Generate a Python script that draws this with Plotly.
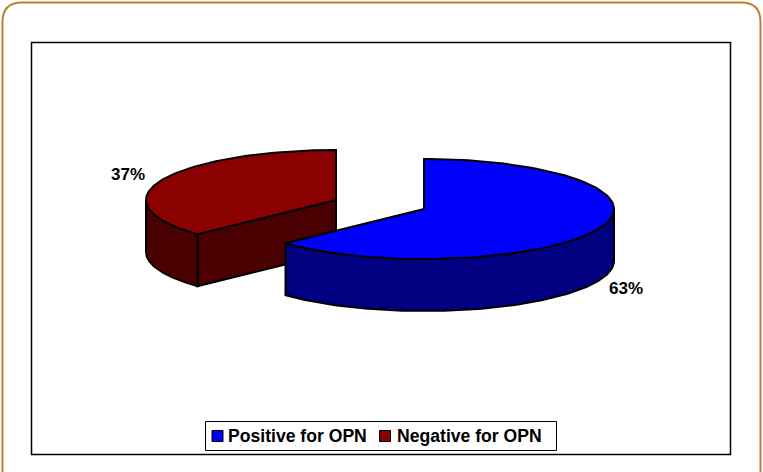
import numpy as np
import plotly.graph_objects as go

categories = ['Positive for OPN', 'Negative for OPN']
shares = [63, 37]
top_colors = ['#0000FF', '#8B0000']
wall_colors = ['#000080', '#4A0000']

# pie geometry, in pixels of the page
centers = [(424, 209), (336, 200)]
rx, ry, depth = 190, 50, 52
label_pos = [(626, 290), (128, 176)]
legend_swatches = [(217.5, 436), (385, 436)]
legend_text = [(228, 438), (397, 438)]


def rim(cx, cy, start, end, dy=0):
    # angles are clockwise from 12 o'clock, in degrees
    t = np.radians(np.linspace(start, end, 120))
    return cx + rx * np.sin(t), cy - ry * np.cos(t) + dy


def poly(x, y, color):
    return go.Scatter(x=list(x), y=list(y), mode='lines', fill='toself', fillcolor=color,
                      line=dict(color='black', width=2), hoverinfo='skip', showlegend=False)


bounds = np.cumsum([0] + shares) / sum(shares) * 360
fig = go.Figure()

# far slice first so the near one sits on top of it
for i in [1, 0]:
    cx, cy = centers[i]
    start, end = bounds[i], bounds[i + 1]
    tx, ty = rim(cx, cy, start, end)

    if i == 1:
        # cut face that looks towards the viewer
        fig.add_trace(poly([cx, tx[0], tx[0], cx, cx], [cy, ty[0], ty[0] + depth, cy + depth, cy], wall_colors[i]))

    # outer wall, only the front half of the rim shows
    a, b = max(start, 90), min(end, 270)
    wx, wy = rim(cx, cy, a, b)
    bx, by = rim(cx, cy, b, a, depth)
    fig.add_trace(poly(np.r_[wx, bx, wx[0]], np.r_[wy, by, wy[0]], wall_colors[i]))

    fig.add_trace(poly(np.r_[cx, tx, cx], np.r_[cy, ty, cy], top_colors[i]))

fig.add_trace(go.Scatter(
    x=[p[0] for p in label_pos], y=[p[1] for p in label_pos],
    text=[f'{v}%' for v in shares], mode='text', hoverinfo='skip', showlegend=False,
    textfont=dict(family='Liberation Sans', size=17, color='black', weight=700)))

fig.add_trace(go.Scatter(
    x=[p[0] for p in legend_swatches], y=[p[1] for p in legend_swatches],
    mode='markers', hoverinfo='skip', showlegend=False,
    marker=dict(symbol='square', size=11, color=top_colors, line=dict(color='black', width=1))))

fig.add_trace(go.Scatter(
    x=[p[0] for p in legend_text], y=[p[1] for p in legend_text],
    text=categories, mode='text', textposition='middle right', hoverinfo='skip', showlegend=False,
    textfont=dict(family='Liberation Sans', size=17.6, color='black', weight=700)))

shapes = [
    dict(type='path', path='M 2.5 490 L 2.5 22 Q 2.5 2.5 22 2.5 L 741 2.5 Q 760.5 2.5 760.5 22 L 760.5 490',
         line=dict(color='#C08030', width=2)),
    dict(type='rect', x0=31.5, y0=42.5, x1=730.5, y1=454.5, line=dict(color='black', width=1.5), layer='below'),
    dict(type='rect', x0=205.5, y0=421.5, x1=556.5, y1=450.5, line=dict(color='black', width=1), layer='below'),
]

fig.update_layout(
    width=763, height=472,
    margin=dict(l=0, r=0, t=0, b=0),
    paper_bgcolor='white', plot_bgcolor='white',
    xaxis=dict(range=[0, 763], visible=False, fixedrange=True),
    yaxis=dict(range=[472, 0], visible=False, fixedrange=True),
    shapes=shapes,
)

# the page's default body margin would push the figure 8px down and right
fig.write_html("out.html", config=dict(displayModeBar=False),
               post_script="document.body.style.margin='0';document.body.style.overflow='hidden';")
